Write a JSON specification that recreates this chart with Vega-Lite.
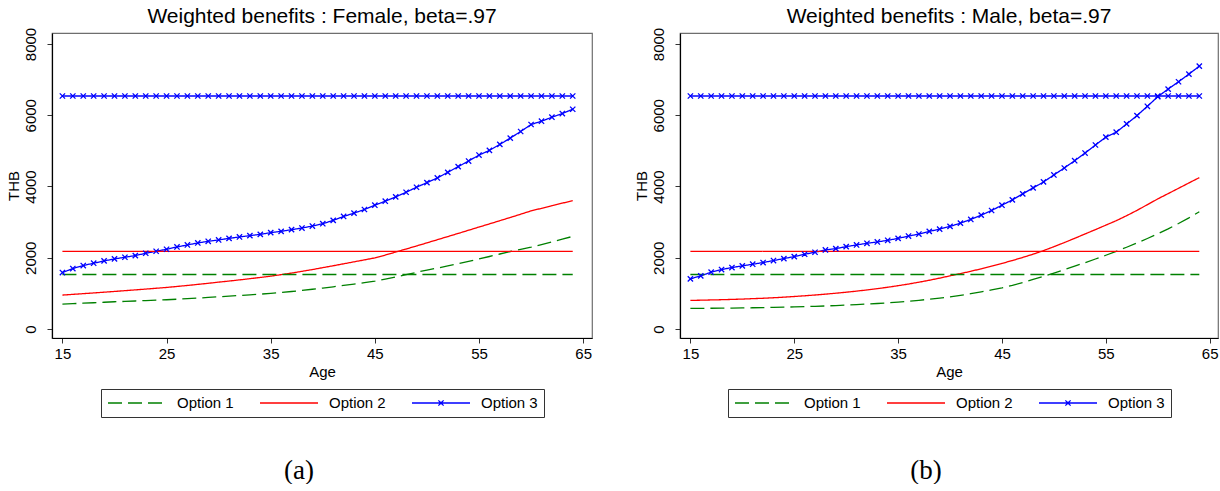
{
  "$schema": "https://vega.github.io/schema/vega-lite/v6.json",
  "padding": {"left": 5, "top": 5, "right": 0, "bottom": 0},
  "background": "white",
  "datasets": {
    "female": [
      {"age":15,"Option 1":700,"Option 2":952,"Option 3":1585},
      {"age":16,"Option 1":712,"Option 2":972,"Option 3":1697},
      {"age":17,"Option 1":724,"Option 2":992,"Option 3":1781},
      {"age":18,"Option 1":736,"Option 2":1012,"Option 3":1846},
      {"age":19,"Option 1":750,"Option 2":1033,"Option 3":1911},
      {"age":20,"Option 1":764,"Option 2":1054,"Option 3":1967},
      {"age":21,"Option 1":775,"Option 2":1076,"Option 3":2014},
      {"age":22,"Option 1":786,"Option 2":1098,"Option 3":2061},
      {"age":23,"Option 1":798,"Option 2":1120,"Option 3":2126},
      {"age":24,"Option 1":809,"Option 2":1143,"Option 3":2182},
      {"age":25,"Option 1":821,"Option 2":1166,"Option 3":2238},
      {"age":26,"Option 1":836,"Option 2":1194,"Option 3":2303},
      {"age":27,"Option 1":852,"Option 2":1222,"Option 3":2359},
      {"age":28,"Option 1":868,"Option 2":1252,"Option 3":2415},
      {"age":29,"Option 1":886,"Option 2":1283,"Option 3":2462},
      {"age":30,"Option 1":905,"Option 2":1315,"Option 3":2499},
      {"age":31,"Option 1":922,"Option 2":1346,"Option 3":2545},
      {"age":32,"Option 1":940,"Option 2":1378,"Option 3":2583},
      {"age":33,"Option 1":958,"Option 2":1412,"Option 3":2620},
      {"age":34,"Option 1":978,"Option 2":1447,"Option 3":2657},
      {"age":35,"Option 1":999,"Option 2":1483,"Option 3":2704},
      {"age":36,"Option 1":1025,"Option 2":1525,"Option 3":2741},
      {"age":37,"Option 1":1052,"Option 2":1570,"Option 3":2788},
      {"age":38,"Option 1":1082,"Option 2":1618,"Option 3":2834},
      {"age":39,"Option 1":1115,"Option 2":1668,"Option 3":2890},
      {"age":40,"Option 1":1150,"Option 2":1722,"Option 3":2955},
      {"age":41,"Option 1":1185,"Option 2":1775,"Option 3":3050},
      {"age":42,"Option 1":1222,"Option 2":1830,"Option 3":3159},
      {"age":43,"Option 1":1260,"Option 2":1885,"Option 3":3252},
      {"age":44,"Option 1":1300,"Option 2":1940,"Option 3":3354},
      {"age":45,"Option 1":1341,"Option 2":1996,"Option 3":3475},
      {"age":46,"Option 1":1400,"Option 2":2075,"Option 3":3587},
      {"age":47,"Option 1":1462,"Option 2":2160,"Option 3":3708},
      {"age":48,"Option 1":1527,"Option 2":2245,"Option 3":3839},
      {"age":49,"Option 1":1590,"Option 2":2330,"Option 3":3979},
      {"age":50,"Option 1":1655,"Option 2":2418,"Option 3":4109},
      {"age":51,"Option 1":1710,"Option 2":2506,"Option 3":4240},
      {"age":52,"Option 1":1770,"Option 2":2594,"Option 3":4398},
      {"age":53,"Option 1":1835,"Option 2":2682,"Option 3":4557},
      {"age":54,"Option 1":1900,"Option 2":2772,"Option 3":4715},
      {"age":55,"Option 1":1965,"Option 2":2862,"Option 3":4883},
      {"age":56,"Option 1":2035,"Option 2":2950,"Option 3":5013},
      {"age":57,"Option 1":2105,"Option 2":3040,"Option 3":5181},
      {"age":58,"Option 1":2175,"Option 2":3130,"Option 3":5358},
      {"age":59,"Option 1":2235,"Option 2":3222,"Option 3":5544},
      {"age":60,"Option 1":2295,"Option 2":3315,"Option 3":5740},
      {"age":61,"Option 1":2370,"Option 2":3387,"Option 3":5833},
      {"age":62,"Option 1":2445,"Option 2":3460,"Option 3":5945},
      {"age":63,"Option 1":2520,"Option 2":3532,"Option 3":6048},
      {"age":64,"Option 1":2600,"Option 2":3605,"Option 3":6169}
    ],
    "male": [
      {"age":15,"Option 1":578,"Option 2":802,"Option 3":1408},
      {"age":16,"Option 1":580,"Option 2":808,"Option 3":1492},
      {"age":17,"Option 1":582,"Option 2":815,"Option 3":1594},
      {"age":18,"Option 1":585,"Option 2":822,"Option 3":1669},
      {"age":19,"Option 1":588,"Option 2":830,"Option 3":1725},
      {"age":20,"Option 1":592,"Option 2":840,"Option 3":1772},
      {"age":21,"Option 1":596,"Option 2":851,"Option 3":1818},
      {"age":22,"Option 1":601,"Option 2":863,"Option 3":1865},
      {"age":23,"Option 1":607,"Option 2":877,"Option 3":1921},
      {"age":24,"Option 1":613,"Option 2":893,"Option 3":1977},
      {"age":25,"Option 1":620,"Option 2":912,"Option 3":2033},
      {"age":26,"Option 1":628,"Option 2":932,"Option 3":2098},
      {"age":27,"Option 1":637,"Option 2":954,"Option 3":2154},
      {"age":28,"Option 1":647,"Option 2":978,"Option 3":2219},
      {"age":29,"Option 1":658,"Option 2":1004,"Option 3":2256},
      {"age":30,"Option 1":670,"Option 2":1032,"Option 3":2312},
      {"age":31,"Option 1":684,"Option 2":1063,"Option 3":2359},
      {"age":32,"Option 1":699,"Option 2":1096,"Option 3":2406},
      {"age":33,"Option 1":716,"Option 2":1132,"Option 3":2443},
      {"age":34,"Option 1":735,"Option 2":1172,"Option 3":2490},
      {"age":35,"Option 1":756,"Option 2":1215,"Option 3":2543},
      {"age":36,"Option 1":780,"Option 2":1262,"Option 3":2609},
      {"age":37,"Option 1":806,"Option 2":1313,"Option 3":2665},
      {"age":38,"Option 1":835,"Option 2":1368,"Option 3":2739},
      {"age":39,"Option 1":867,"Option 2":1428,"Option 3":2804},
      {"age":40,"Option 1":902,"Option 2":1492,"Option 3":2879},
      {"age":41,"Option 1":945,"Option 2":1555,"Option 3":2972},
      {"age":42,"Option 1":992,"Option 2":1620,"Option 3":3075},
      {"age":43,"Option 1":1043,"Option 2":1690,"Option 3":3196},
      {"age":44,"Option 1":1097,"Option 2":1763,"Option 3":3326},
      {"age":45,"Option 1":1155,"Option 2":1840,"Option 3":3475},
      {"age":46,"Option 1":1225,"Option 2":1922,"Option 3":3625},
      {"age":47,"Option 1":1305,"Option 2":2008,"Option 3":3792},
      {"age":48,"Option 1":1390,"Option 2":2100,"Option 3":3960},
      {"age":49,"Option 1":1478,"Option 2":2200,"Option 3":4128},
      {"age":50,"Option 1":1570,"Option 2":2310,"Option 3":4324},
      {"age":51,"Option 1":1665,"Option 2":2425,"Option 3":4519},
      {"age":52,"Option 1":1762,"Option 2":2545,"Option 3":4724},
      {"age":53,"Option 1":1862,"Option 2":2668,"Option 3":4939},
      {"age":54,"Option 1":1965,"Option 2":2790,"Option 3":5165},
      {"age":55,"Option 1":2070,"Option 2":2915,"Option 3":5385},
      {"age":56,"Option 1":2180,"Option 2":3040,"Option 3":5524},
      {"age":57,"Option 1":2295,"Option 2":3180,"Option 3":5757},
      {"age":58,"Option 1":2415,"Option 2":3330,"Option 3":5990},
      {"age":59,"Option 1":2540,"Option 2":3490,"Option 3":6251},
      {"age":60,"Option 1":2670,"Option 2":3652,"Option 3":6521},
      {"age":61,"Option 1":2810,"Option 2":3800,"Option 3":6735},
      {"age":62,"Option 1":2960,"Option 2":3950,"Option 3":6940},
      {"age":63,"Option 1":3120,"Option 2":4100,"Option 3":7155},
      {"age":64,"Option 1":3290,"Option 2":4248,"Option 3":7378}
    ],
    "flat": [
      {"age":15,"Option 1":1530,"Option 2":2180,"Option 3":6540},
      {"age":16,"Option 1":1530,"Option 2":2180,"Option 3":6540},
      {"age":17,"Option 1":1530,"Option 2":2180,"Option 3":6540},
      {"age":18,"Option 1":1530,"Option 2":2180,"Option 3":6540},
      {"age":19,"Option 1":1530,"Option 2":2180,"Option 3":6540},
      {"age":20,"Option 1":1530,"Option 2":2180,"Option 3":6540},
      {"age":21,"Option 1":1530,"Option 2":2180,"Option 3":6540},
      {"age":22,"Option 1":1530,"Option 2":2180,"Option 3":6540},
      {"age":23,"Option 1":1530,"Option 2":2180,"Option 3":6540},
      {"age":24,"Option 1":1530,"Option 2":2180,"Option 3":6540},
      {"age":25,"Option 1":1530,"Option 2":2180,"Option 3":6540},
      {"age":26,"Option 1":1530,"Option 2":2180,"Option 3":6540},
      {"age":27,"Option 1":1530,"Option 2":2180,"Option 3":6540},
      {"age":28,"Option 1":1530,"Option 2":2180,"Option 3":6540},
      {"age":29,"Option 1":1530,"Option 2":2180,"Option 3":6540},
      {"age":30,"Option 1":1530,"Option 2":2180,"Option 3":6540},
      {"age":31,"Option 1":1530,"Option 2":2180,"Option 3":6540},
      {"age":32,"Option 1":1530,"Option 2":2180,"Option 3":6540},
      {"age":33,"Option 1":1530,"Option 2":2180,"Option 3":6540},
      {"age":34,"Option 1":1530,"Option 2":2180,"Option 3":6540},
      {"age":35,"Option 1":1530,"Option 2":2180,"Option 3":6540},
      {"age":36,"Option 1":1530,"Option 2":2180,"Option 3":6540},
      {"age":37,"Option 1":1530,"Option 2":2180,"Option 3":6540},
      {"age":38,"Option 1":1530,"Option 2":2180,"Option 3":6540},
      {"age":39,"Option 1":1530,"Option 2":2180,"Option 3":6540},
      {"age":40,"Option 1":1530,"Option 2":2180,"Option 3":6540},
      {"age":41,"Option 1":1530,"Option 2":2180,"Option 3":6540},
      {"age":42,"Option 1":1530,"Option 2":2180,"Option 3":6540},
      {"age":43,"Option 1":1530,"Option 2":2180,"Option 3":6540},
      {"age":44,"Option 1":1530,"Option 2":2180,"Option 3":6540},
      {"age":45,"Option 1":1530,"Option 2":2180,"Option 3":6540},
      {"age":46,"Option 1":1530,"Option 2":2180,"Option 3":6540},
      {"age":47,"Option 1":1530,"Option 2":2180,"Option 3":6540},
      {"age":48,"Option 1":1530,"Option 2":2180,"Option 3":6540},
      {"age":49,"Option 1":1530,"Option 2":2180,"Option 3":6540},
      {"age":50,"Option 1":1530,"Option 2":2180,"Option 3":6540},
      {"age":51,"Option 1":1530,"Option 2":2180,"Option 3":6540},
      {"age":52,"Option 1":1530,"Option 2":2180,"Option 3":6540},
      {"age":53,"Option 1":1530,"Option 2":2180,"Option 3":6540},
      {"age":54,"Option 1":1530,"Option 2":2180,"Option 3":6540},
      {"age":55,"Option 1":1530,"Option 2":2180,"Option 3":6540},
      {"age":56,"Option 1":1530,"Option 2":2180,"Option 3":6540},
      {"age":57,"Option 1":1530,"Option 2":2180,"Option 3":6540},
      {"age":58,"Option 1":1530,"Option 2":2180,"Option 3":6540},
      {"age":59,"Option 1":1530,"Option 2":2180,"Option 3":6540},
      {"age":60,"Option 1":1530,"Option 2":2180,"Option 3":6540},
      {"age":61,"Option 1":1530,"Option 2":2180,"Option 3":6540},
      {"age":62,"Option 1":1530,"Option 2":2180,"Option 3":6540},
      {"age":63,"Option 1":1530,"Option 2":2180,"Option 3":6540},
      {"age":64,"Option 1":1530,"Option 2":2180,"Option 3":6540}
    ]
  },
  "hconcat": [
    {
      "title": {"text": "(a)", "orient": "bottom", "anchor": "middle", "font": "Liberation Serif", "fontSize": 27, "fontWeight": "normal", "offset": 40},
      "vconcat": [
        {
          "width": 540,
          "height": 305,
          "title": {"text": "Weighted benefits : Female, beta=.97", "offset": 0},
          "encoding": {
            "x": {"field": "age", "type": "quantitative", "scale": {"domain": [14, 65.85], "nice": false, "zero": false}, "axis": {"values": [15, 25, 35, 45, 55, 65], "title": "Age", "format": "d"}},
            "y": {"field": "thb", "type": "quantitative", "scale": {"domain": [-253, 8309], "nice": false, "zero": false}, "axis": {"values": [0, 2000, 4000, 6000, 8000], "title": "THB", "format": "d", "labelAngle": 270, "labelAlign": "center", "labelBaseline": "bottom", "labelPadding": 9, "titlePadding": 2}}
          },
          "layer": [
            {
              "data": {"name": "female"},
              "transform": [{"fold": ["Option 1", "Option 2", "Option 3"], "as": ["option", "thb"]}],
              "mark": {"type": "line", "strokeWidth": 1.3},
              "encoding": {
                "color": {"field": "option", "type": "nominal", "scale": {"domain": ["Option 1", "Option 2", "Option 3"], "range": ["#008000", "#ff0000", "#0000ff"]}, "legend": {"title": null, "orient": "none", "legendX": 49, "legendY": 356, "encode": {"symbols": {"update": {"shape": {"signal": "datum.value === 'Option 3' ? 'M-1,0L1,0M-0.09,-0.09L0.09,0.09M-0.09,0.09L0.09,-0.09' : 'stroke'"}}}}}},
                "strokeDash": {"field": "option", "type": "nominal", "scale": {"domain": ["Option 1", "Option 2", "Option 3"], "range": [[14, 6], [1, 0], [1, 0]]}, "legend": {"title": null, "orient": "none", "legendX": 49, "legendY": 356, "encode": {"symbols": {"update": {"shape": {"signal": "datum.value === 'Option 3' ? 'M-1,0L1,0M-0.09,-0.09L0.09,0.09M-0.09,0.09L0.09,-0.09' : 'stroke'"}}}}}}
              }
            },
            {
              "data": {"name": "flat"},
              "transform": [{"fold": ["Option 1", "Option 2", "Option 3"], "as": ["option", "thb"]}],
              "mark": {"type": "line", "strokeWidth": 1.3},
              "encoding": {
                "color": {"field": "option", "type": "nominal"},
                "strokeDash": {"field": "option", "type": "nominal"}
              }
            },
            {
              "data": {"name": "female"},
              "transform": [{"fold": ["Option 1", "Option 2", "Option 3"], "as": ["option", "thb"]}, {"filter": "datum.option === 'Option 3'"}],
              "mark": {"type": "point", "shape": "M-1,-1L1,1M-1,1L1,-1", "filled": false, "size": 28, "strokeWidth": 1.3, "color": "#0000ff", "opacity": 1}
            },
            {
              "data": {"name": "flat"},
              "transform": [{"fold": ["Option 1", "Option 2", "Option 3"], "as": ["option", "thb"]}, {"filter": "datum.option === 'Option 3'"}],
              "mark": {"type": "point", "shape": "M-1,-1L1,1M-1,1L1,-1", "filled": false, "size": 28, "strokeWidth": 1.3, "color": "#0000ff", "opacity": 1}
            }
          ]
        }
      ]
    },
    {
      "title": {"text": "(b)", "orient": "bottom", "anchor": "middle", "font": "Liberation Serif", "fontSize": 27, "fontWeight": "normal", "offset": 40},
      "vconcat": [
        {
          "width": 538,
          "height": 305,
          "title": {"text": "Weighted benefits : Male, beta=.97", "offset": 0},
          "encoding": {
            "x": {"field": "age", "type": "quantitative", "scale": {"domain": [14, 65.8], "nice": false, "zero": false}, "axis": {"values": [15, 25, 35, 45, 55, 65], "title": "Age", "format": "d"}},
            "y": {"field": "thb", "type": "quantitative", "scale": {"domain": [-253, 8309], "nice": false, "zero": false}, "axis": {"values": [0, 2000, 4000, 6000, 8000], "title": "THB", "format": "d", "labelAngle": 270, "labelAlign": "center", "labelBaseline": "bottom", "labelPadding": 9, "titlePadding": 2}}
          },
          "layer": [
            {
              "data": {"name": "male"},
              "transform": [{"fold": ["Option 1", "Option 2", "Option 3"], "as": ["option", "thb"]}],
              "mark": {"type": "line", "strokeWidth": 1.3},
              "encoding": {
                "color": {"field": "option", "type": "nominal", "scale": {"domain": ["Option 1", "Option 2", "Option 3"], "range": ["#008000", "#ff0000", "#0000ff"]}, "legend": {"title": null, "orient": "none", "legendX": 48, "legendY": 356, "encode": {"symbols": {"update": {"shape": {"signal": "datum.value === 'Option 3' ? 'M-1,0L1,0M-0.09,-0.09L0.09,0.09M-0.09,0.09L0.09,-0.09' : 'stroke'"}}}}}},
                "strokeDash": {"field": "option", "type": "nominal", "scale": {"domain": ["Option 1", "Option 2", "Option 3"], "range": [[14, 6], [1, 0], [1, 0]]}, "legend": {"title": null, "orient": "none", "legendX": 48, "legendY": 356, "encode": {"symbols": {"update": {"shape": {"signal": "datum.value === 'Option 3' ? 'M-1,0L1,0M-0.09,-0.09L0.09,0.09M-0.09,0.09L0.09,-0.09' : 'stroke'"}}}}}}
              }
            },
            {
              "data": {"name": "flat"},
              "transform": [{"fold": ["Option 1", "Option 2", "Option 3"], "as": ["option", "thb"]}],
              "mark": {"type": "line", "strokeWidth": 1.3},
              "encoding": {
                "color": {"field": "option", "type": "nominal"},
                "strokeDash": {"field": "option", "type": "nominal"}
              }
            },
            {
              "data": {"name": "male"},
              "transform": [{"fold": ["Option 1", "Option 2", "Option 3"], "as": ["option", "thb"]}, {"filter": "datum.option === 'Option 3'"}],
              "mark": {"type": "point", "shape": "M-1,-1L1,1M-1,1L1,-1", "filled": false, "size": 28, "strokeWidth": 1.3, "color": "#0000ff", "opacity": 1}
            },
            {
              "data": {"name": "flat"},
              "transform": [{"fold": ["Option 1", "Option 2", "Option 3"], "as": ["option", "thb"]}, {"filter": "datum.option === 'Option 3'"}],
              "mark": {"type": "point", "shape": "M-1,-1L1,1M-1,1L1,-1", "filled": false, "size": 28, "strokeWidth": 1.3, "color": "#0000ff", "opacity": 1}
            }
          ]
        }
      ]
    }
  ],
  "spacing": 40,
  "resolve": {
    "scale": {"color": "independent", "strokeDash": "independent"},
    "legend": {"color": "independent", "strokeDash": "independent"}
  },
  "config": {
    "view": {"stroke": "#6e6e6e", "strokeWidth": 1.2},
    "axis": {
      "grid": false,
      "domainColor": "#000000",
      "domainWidth": 1.2,
      "tickColor": "#333333",
      "tickSize": 5,
      "tickWidth": 1,
      "labelFont": "Liberation Sans",
      "labelFontSize": 15,
      "labelColor": "#000000",
      "labelPadding": 3,
      "titleFont": "Liberation Sans",
      "titleFontSize": 15,
      "titleFontWeight": "normal",
      "titleColor": "#000000",
      "titlePadding": 3
    },
    "legend": {
      "direction": "horizontal",
      "symbolType": "stroke",
      "symbolSize": 3364,
      "symbolStrokeWidth": 1.3,
      "clipHeight": 16,
      "labelFont": "Liberation Sans",
      "labelFontSize": 15,
      "labelColor": "#000000",
      "labelOffset": 10,
      "labelLimit": 0,
      "columnPadding": 25,
      "padding": 6,
      "strokeColor": "#333333",
      "fillColor": "#ffffff"
    },
    "title": {"font": "Liberation Sans", "fontSize": 21, "fontWeight": "normal", "color": "#000000"}
  }
}
